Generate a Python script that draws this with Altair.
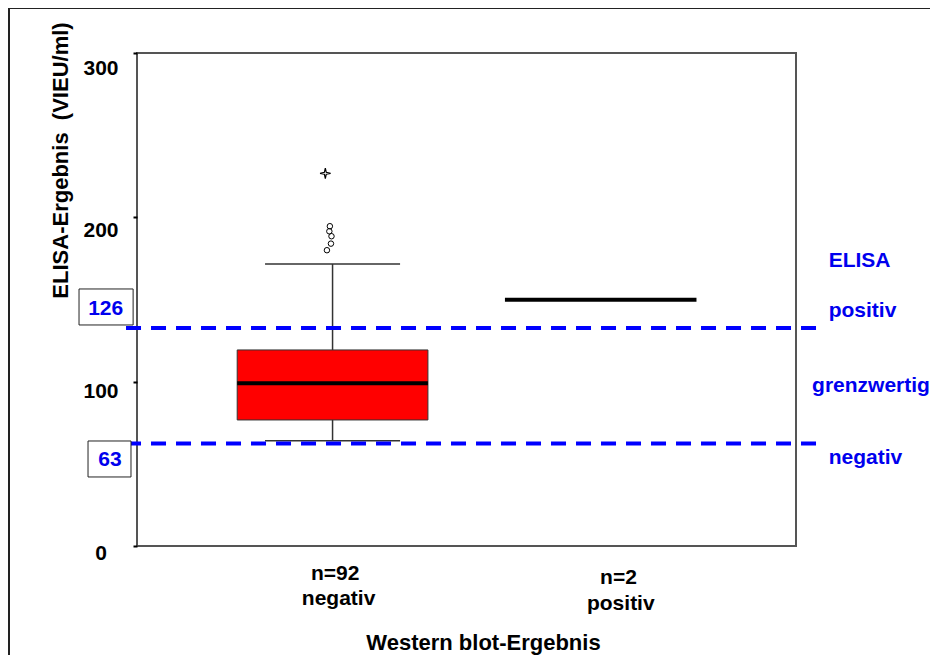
import altair as alt
import pandas as pd

FONT = "Liberation Sans"
BLUE = "#0000ee"
DASH_BLUE = "#0000ff"

# ---------------- data ----------------
group_x = [1, 2]
group_n = ["n=92", "n=2"]
group_names = ["negativ", "positiv"]

# Western blot negative group (box plot statistics, VIEU/ml)
neg_whisker_low = [64.0]
neg_q1 = [76.7]
neg_median = [99.0]
neg_q3 = [119.3]
neg_whisker_high = [171.6]
neg_outliers = [194.6, 191.5, 188.5, 184.0, 180.0]
neg_outlier_dx = [-0.010, -0.012, -0.004, -0.006, -0.021]
neg_extreme = [226.8]
neg_extreme_dx = [-0.027]

# Western blot positive group (n=2) drawn as a single line
pos_values = [149.9]

# ELISA cut-offs
cutoff_labels = ["126", "63"]
cutoff_line_y = [132.7, 62.3]

elisa_zone_labels = ["ELISA", "positiv", "grenzwertig", "negativ"]
elisa_zone_y = [170.0, 139.4, 93.9, 49.9]

y_tick_values = [0, 100, 200, 300]
y_tick_labels = ["0", "100", "200", "300"]
y_tick_label_y = [-4.9, 94.0, 191.7, 290.0]

# ---------------- scales / axes ----------------
xs = alt.Scale(domain=[0.27, 2.73], nice=False, zero=False)
ys = alt.Scale(domain=[0, 300], nice=False, zero=True)

x_axis = alt.Axis(labels=False, ticks=False, domain=False, grid=False,
                  title="Western blot-Ergebnis", titleFont=FONT, titleFontSize=22,
                  titleFontWeight="bold", titleColor="black", titleX=346, titleY=103,
                  titleAlign="center", titleBaseline="alphabetic")
y_axis = alt.Axis(values=y_tick_values, labels=False, ticks=True, tickSize=4, tickWidth=2,
                  tickColor="black", domain=False, grid=False,
                  title="ELISA-Ergebnis \u00a0(VIEU/ml)", titleFont=FONT, titleFontSize=22,
                  titleFontWeight="bold", titleColor="black", titleAngle=270,
                  titleAlign="center", titleBaseline="middle", titleX=-77, titleY=107)

X = lambda f: alt.X(f, type="quantitative", scale=xs, axis=x_axis)
Y = lambda f: alt.Y(f, type="quantitative", scale=ys, axis=y_axis)

# ---------------- layers ----------------
frame = alt.Chart(pd.DataFrame({"k": [0]})).mark_rect(
    fillOpacity=0, stroke="#222222", strokeWidth=2, clip=False
).encode(x=alt.value(-128), x2=alt.value(900), y=alt.value(-45), y2=alt.value(700))

BOX_HW = 0.356
CAP_HW = 0.252
POS_HW = 0.3575

box_df = pd.DataFrame({"x": [group_x[0] - BOX_HW], "x2": [group_x[0] + BOX_HW],
                       "q1": neg_q1, "q3": neg_q3})
box = alt.Chart(box_df).mark_rect(fill="#ff0000", stroke="#333333", strokeWidth=1).encode(
    x=X("x"), x2="x2", y=Y("q1"), y2="q3")

wv_df = pd.DataFrame({"x": [group_x[0]] * 2,
                      "y": [neg_whisker_low[0], neg_q3[0]],
                      "y2": [neg_q1[0], neg_whisker_high[0]]})
whisk = alt.Chart(wv_df).mark_rule(color="#333333", strokeWidth=1.5).encode(
    x=X("x"), y=Y("y"), y2="y2")

cap_df = pd.DataFrame({"x": [group_x[0] - CAP_HW] * 2, "x2": [group_x[0] + CAP_HW] * 2,
                       "y": [neg_whisker_low[0], neg_whisker_high[0]]})
caps = alt.Chart(cap_df).mark_rule(color="#333333", strokeWidth=1.5).encode(
    x=X("x"), x2="x2", y=Y("y"))

med_df = pd.DataFrame({"x": [group_x[0] - BOX_HW], "x2": [group_x[0] + BOX_HW], "y": neg_median})
med = alt.Chart(med_df).mark_rule(color="black", strokeWidth=4).encode(
    x=X("x"), x2="x2", y=Y("y"))

out_df = pd.DataFrame({"x": [group_x[0] + d for d in neg_outlier_dx], "y": neg_outliers})
outl = alt.Chart(out_df).mark_point(shape="circle", size=30, filled=False, color="black",
                                     strokeWidth=1, opacity=1).encode(x=X("x"), y=Y("y"))

STAR = "M0,-1L0.18,-0.18L1,0L0.18,0.18L0,1L-0.18,0.18L-1,0L-0.18,-0.18Z"
ext_df = pd.DataFrame({"x": [group_x[0] + d for d in neg_extreme_dx], "y": neg_extreme})
ext = alt.Chart(ext_df).mark_point(shape=STAR, size=110, filled=True, fill="white",
                                    stroke="black", strokeWidth=1.2, opacity=1).encode(
    x=X("x"), y=Y("y"))

pos_df = pd.DataFrame({"x": [group_x[1] + 0.001 - POS_HW], "x2": [group_x[1] + 0.001 + POS_HW],
                       "y": pos_values})
pos = alt.Chart(pos_df).mark_rule(color="black", strokeWidth=4).encode(
    x=X("x"), x2="x2", y=Y("y"))

cut_df = pd.DataFrame({"x": [0.229] * 2, "x2": [2.8185] * 2, "y": cutoff_line_y})
cut = alt.Chart(cut_df).mark_rule(color=DASH_BLUE, strokeWidth=4, strokeDash=[15, 10],
                                  clip=False).encode(x=X("x"), x2="x2", y=Y("y"))

cbox_df = pd.DataFrame({"x": [0.0536, 0.0872], "x2": [0.2555, 0.2476],
                        "y": [156.4, 63.9], "y2": [134.5, 42.0]})
cbox = alt.Chart(cbox_df).mark_rect(fill="white", stroke="#222222", strokeWidth=1,
                                    clip=False).encode(x=X("x"), x2="x2", y=Y("y"), y2="y2")

ctext_df = pd.DataFrame({"x": [0.1532, 0.1692], "y": [140.6, 48.9], "t": cutoff_labels})
ctext = alt.Chart(ctext_df).mark_text(font=FONT, fontSize=21, fontWeight="bold", color=BLUE,
                                      align="center", baseline="alphabetic", clip=False).encode(
    x=X("x"), y=Y("y"), text="t:N")

zone_df = pd.DataFrame({"x": [2.852, 2.852, 2.79, 2.852], "y": elisa_zone_y,
                        "t": elisa_zone_labels})
zone = alt.Chart(zone_df).mark_text(font=FONT, fontSize=21, fontWeight="bold", color=BLUE,
                                    align="left", baseline="alphabetic", clip=False).encode(
    x=X("x"), y=Y("y"), text="t:N")

cat_df = pd.DataFrame({"x": [1.010, 2.0674, 1.0225, 2.076],
                       "y": [-20.7, -23.3, -35.9, -38.9],
                       "t": group_n + group_names})
cat = alt.Chart(cat_df).mark_text(font=FONT, fontSize=21, fontWeight="bold", color="black",
                                  align="center", baseline="alphabetic", clip=False).encode(
    x=X("x"), y=Y("y"), text="t:N")

ytl_df = pd.DataFrame({"x": [0.1357] * 4, "y": y_tick_label_y, "t": y_tick_labels})
ytl = alt.Chart(ytl_df).mark_text(font=FONT, fontSize=21, fontWeight="bold", color="black",
                                  align="center", baseline="middle", clip=False).encode(
    x=X("x"), y=Y("y"), text="t:N")

chart = alt.layer(frame, box, whisk, caps, med, outl, ext, pos, cut, cbox, ctext, zone, cat, ytl
).properties(
    width=659, height=493,
    autosize=alt.AutoSizeParams(type="none"),
    padding={"left": 129, "top": 45, "right": 134, "bottom": 110},
    background="white",
).configure_view(stroke="#555555", strokeWidth=2)

chart.save("out.html", embed_options={"renderer": "svg", "actions": False})
